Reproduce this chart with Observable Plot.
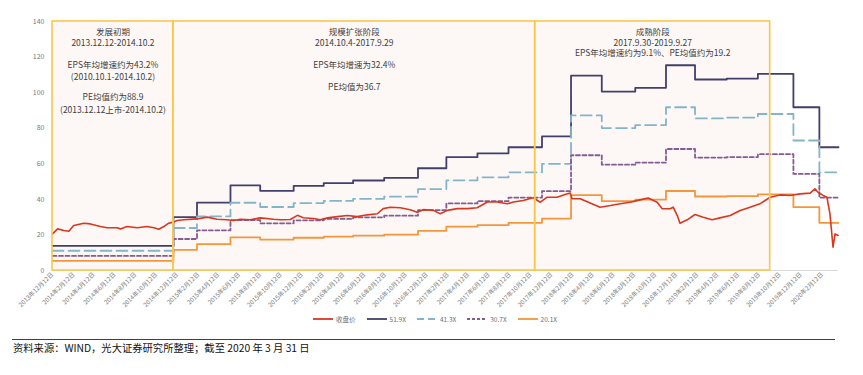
<!DOCTYPE html>
<html><head><meta charset="utf-8">
<script src="https://cdn.jsdelivr.net/npm/d3@7"></script>
<script src="https://cdn.jsdelivr.net/npm/@observablehq/plot@0.6"></script>
<style>
body{margin:0;background:#fff;font-family:"Noto Sans CJK SC","Noto Sans",sans-serif;}
#wrap{position:relative;width:863px;height:375px;}
#legend{position:absolute;left:0;top:314px;width:870px;display:flex;justify-content:center;align-items:center;gap:11px;font-size:6.5px;color:#6f6f6f;}
#legend .it{display:flex;align-items:center;gap:3px;}
#rule{position:absolute;left:12px;top:339px;width:823px;border-top:1px solid #404040;}
#caption{position:absolute;left:13px;top:340px;font-size:10.3px;color:#111;}
</style></head>
<body><div id="wrap"><div id="chart"></div><div id="legend"></div><div id="rule"></div>
<div id="caption">资料来源：WIND，光大证券研究所整理；截至 2020 年 3 月 31 日</div></div>
<script>
// ---- data ----
const startDate = "2013-12-12";
const endDate = "2020-03-31";
const closeDates = ["2013-12-12","2013-12-27","2014-01-14","2014-01-29","2014-02-12","2014-03-14","2014-04-02","2014-05-01","2014-05-21","2014-06-19","2014-06-29","2014-07-18","2014-08-17","2014-09-15","2014-10-05","2014-10-19","2014-11-03","2014-11-17","2014-12-01","2014-12-12","2014-12-31","2015-02-08","2015-03-10","2015-04-08","2015-05-07","2015-05-26","2015-06-15","2015-07-14","2015-08-12","2015-09-20","2015-10-10","2015-11-08","2015-11-29","2015-12-16","2016-01-15","2016-02-04","2016-02-25","2016-03-25","2016-04-23","2016-05-22","2016-06-21","2016-07-20","2016-08-06","2016-08-27","2016-09-25","2016-10-24","2016-11-14","2016-12-01","2016-12-31","2017-01-20","2017-02-10","2017-03-11","2017-04-09","2017-05-08","2017-06-07","2017-07-06","2017-08-04","2017-08-22","2017-09-20","2017-10-19","2017-11-09","2017-11-29","2017-12-28","2018-01-27","2018-02-05","2018-02-10","2018-03-06","2018-04-04","2018-05-03","2018-06-02","2018-07-01","2018-07-30","2018-08-28","2018-09-21","2018-10-17","2018-11-01","2018-11-24","2018-12-03","2018-12-15","2018-12-23","2019-01-13","2019-02-05","2019-03-01","2019-03-27","2019-04-19","2019-05-19","2019-06-17","2019-07-16","2019-08-14","2019-09-13","2019-10-12","2019-11-10","2019-12-09","2020-01-08","2020-01-22","2020-01-31","2020-02-15","2020-02-26","2020-03-06","2020-03-15","2020-03-21","2020-03-30"];
const closeValues = [20.6,23.4,22.5,22.1,25.3,26.6,26.2,24.7,24.0,24.0,23.4,24.7,24.0,24.7,24.0,23.2,24.7,26.6,27.2,28.1,28.5,29.0,30.0,28.8,28.5,28.1,28.8,28.5,29.6,28.8,28.5,28.7,31.0,29.7,29.2,28.5,29.6,30.3,30.9,30.3,31.3,31.9,34.8,35.6,35.3,34.2,32.8,34.2,33.8,31.9,33.8,34.8,34.8,35.3,38.5,38.5,37.5,38.5,39.4,40.9,38.4,41.2,41.2,43.1,43.5,40.3,40.3,37.9,35.6,36.5,37.5,38.4,39.7,40.8,38.4,34.7,34.7,35.6,30.9,26.6,28.5,31.5,30.0,28.5,29.6,30.9,33.7,35.6,37.5,41.2,42.5,42.2,43.1,43.5,45.9,44.0,42.2,41.2,31.8,13.1,20.6,19.7];
const stepDates = ["2013-12-12","2014-12-01","2015-02-08","2015-05-17","2015-08-12","2015-11-18","2016-02-14","2016-05-10","2016-08-09","2016-11-16","2017-02-07","2017-05-09","2017-08-08","2017-11-14","2018-02-07","2018-05-08","2018-08-14","2018-11-12","2019-02-05","2019-05-09","2019-08-08","2019-11-20","2020-02-04"];
const pe519 = [13.9,30.0,38.2,47.9,44.8,47.6,49.1,50.6,52.1,57.5,63.7,65.9,69.3,75.4,109.6,100.6,102.7,115.4,107.4,107.9,110.6,91.8,69.3];
const pe413 = [11.1,23.9,30.4,38.1,35.7,37.9,39.1,40.3,41.5,45.8,50.7,52.4,55.2,60.0,87.2,80.1,81.7,91.8,85.5,85.9,88.0,73.1,55.2];
const pe307 = [8.2,17.7,22.6,28.3,26.5,28.2,29.0,29.9,30.8,34.0,37.7,39.0,41.0,44.6,64.8,59.5,60.7,68.3,63.5,63.8,65.4,54.3,41.0];
const pe201 = [5.4,11.6,14.8,18.6,17.4,18.4,19.0,19.6,20.2,22.3,24.7,25.5,26.8,29.2,42.4,39.0,39.8,44.7,41.6,41.8,42.8,35.6,26.8];
const seriesNames = ["收盘价","51.9X","41.3X","30.7X","20.1X"];
const yTicks = [0,20,40,60,80,100,120,140];
const xTickDates = ["2013-12-12","2014-02-12","2014-04-12","2014-06-12","2014-08-12","2014-10-12","2014-12-12","2015-02-12","2015-04-12","2015-06-12","2015-08-12","2015-10-12","2015-12-12","2016-02-12","2016-04-12","2016-06-12","2016-08-12","2016-10-12","2016-12-12","2017-02-12","2017-04-12","2017-06-12","2017-08-12","2017-10-12","2017-12-12","2018-02-12","2018-04-12","2018-06-12","2018-08-12","2018-10-12","2018-12-12","2019-02-12","2019-04-12","2019-06-12","2019-08-12","2019-10-12","2019-12-12","2020-02-12"];
const phaseStarts = ["2013-12-12","2014-12-01","2017-10-25"];
const phaseEnds = ["2014-12-01","2017-10-25","2019-09-13"];
const phaseTexts = [
  ["发展初期","2013.12.12-2014.10.2","EPS年均增速约为43.2%","(2010.10.1-2014.10.2)","PE均值约为88.9","(2013.12.12上市-2014.10.2)"],
  ["规模扩张阶段","2014.10.4-2017.9.29","EPS年均增速为32.4%","PE均值为36.7"],
  ["成熟阶段","2017.9.30-2019.9.27","EPS年均增速约为9.1%、PE均值约为19.2"]
];
const phaseTextY = [[134.0,127.6,115.4,108.8,97.2,89.9],[134.0,127.6,115.6,102.9],[134.0,128.0,122.0]];

// ---- build ----
const P = s => new Date(s + "T00:00:00Z");
const colors = ["#D9381E","#423F6C","#84B4C8","#865A93","#F4963C"];
const dashes = [null,null,"11,5","4,2.5",null];
const close = closeDates.map((d,i)=>({date:P(d), v:closeValues[i]}));
const bands = [pe519,pe413,pe307,pe201].map(arr => {
  const rows = stepDates.map((d,i)=>({date:P(d), v:arr[i]}));
  rows.push({date:P(endDate), v:arr[arr.length-1]});
  return rows;
});
const phases = phaseStarts.map((s,i)=>({s:P(s), e:P(phaseEnds[i])}));
const texts = [];
phaseTexts.forEach((lines,i)=>lines.forEach((t,j)=>texts.push({
  x:new Date((phases[i].s.getTime()+phases[i].e.getTime())/2), y:phaseTextY[i][j], t})));

const fmt = d => `${d.getUTCFullYear()}年${d.getUTCMonth()+1}月${d.getUTCDate()}日`;
const chart = Plot.plot({
  width:863, height:305,
  marginLeft:52, marginRight:25, marginTop:21, marginBottom:35,
  style:{fontFamily:'"Noto Sans CJK SC","Noto Sans",sans-serif', color:"#595959", background:"transparent", overflow:"visible"},
  x:{type:"utc", domain:[P(startDate),P(endDate)]},
  y:{domain:[0,140]},
  marks:[
    Plot.rect(phases,{x1:"s",x2:"e",y1:0,y2:140,fill:"#FDF8F6"}),
    Plot.ruleY([0],{stroke:"#D9D9D9",strokeWidth:1}),
    ...bands.map((b,k)=>Plot.line(b,{x:"date",y:"v",curve:"step-after",stroke:colors[k+1],strokeWidth:1.8,strokeDasharray:dashes[k+1]})),
    Plot.line(close,{x:"date",y:"v",stroke:colors[0],strokeWidth:1.6}),
    Plot.rect(phases,{x1:"s",x2:"e",y1:0,y2:140,fill:null,stroke:"#F8C84A",strokeWidth:1.6}),
    Plot.text(texts,{x:"x",y:"y",text:"t",fontSize:8.5,fill:"#404040"}),
    Plot.axisY({ticks:yTicks,tickSize:0,tickPadding:8,fontSize:7,label:null,fill:"#7a7a7a"}),
    Plot.axisX({ticks:xTickDates.map(P),tickFormat:fmt,tickSize:0,tickPadding:3,tickRotate:-45,fontSize:6.2,label:null,fill:"#7a7a7a"})
  ]
});
document.getElementById("chart").append(chart);

const leg = document.getElementById("legend");
seriesNames.forEach((n,i)=>{
  const it = document.createElement("div"); it.className="it";
  it.innerHTML = `<svg width="20" height="6"><line x1="0" x2="20" y1="3" y2="3" stroke="${colors[i]}" stroke-width="1.8" ${dashes[i]?`stroke-dasharray="${i===2?'7,4':'3,2'}"`:""}/></svg><span>${n}</span>`;
  leg.append(it);
});
</script></body></html>
